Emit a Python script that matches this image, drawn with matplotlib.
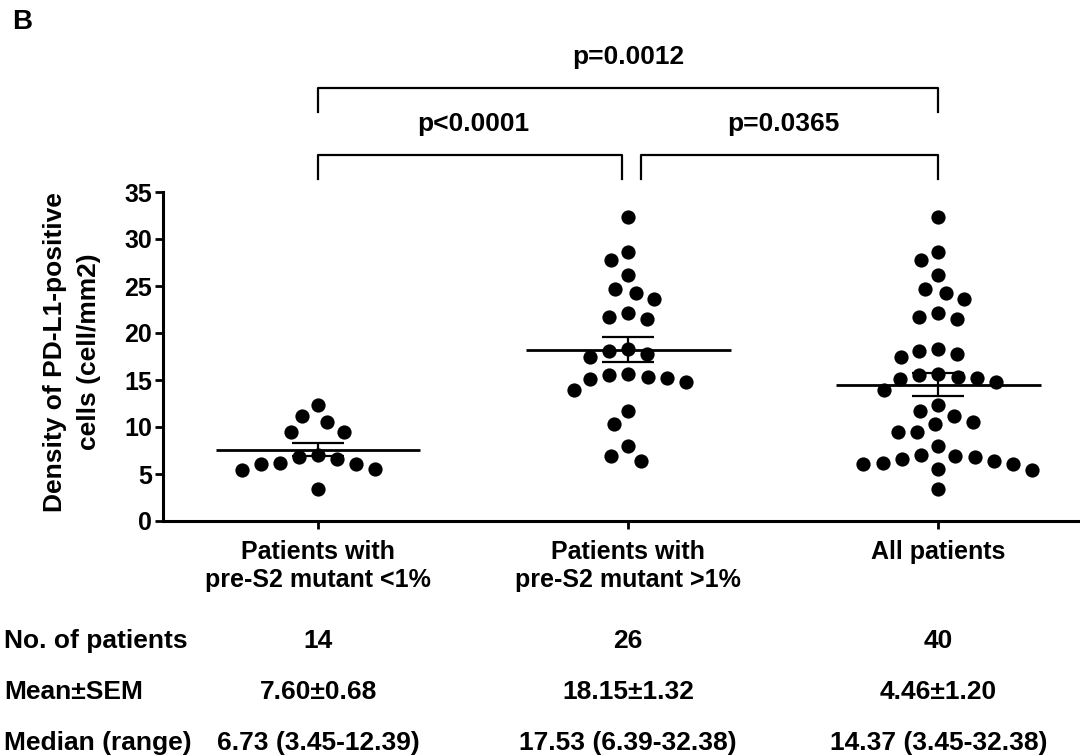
import numpy as np
import matplotlib
matplotlib.use("Agg")
import matplotlib.pyplot as plt
import matplotlib.transforms as mtransforms

# ---------------- data ----------------
categories = ["Patients with\npre-S2 mutant <1%", "Patients with\npre-S2 mutant >1%", "All patients"]
group_low = [12.39, 10.56, 11.17, 9.47, 9.50, 6.81, 6.17, 6.06, 5.53, 5.43, 6.10, 6.63, 7.05, 3.45]
group_high = [32.38, 28.65, 27.77, 26.17, 24.68, 24.26, 23.58, 22.16, 21.45, 21.67,
              18.27, 17.77, 17.41, 18.12, 15.60, 15.32, 15.14, 13.94, 14.82, 15.25,
              15.50, 11.74, 10.35, 7.98, 6.39, 6.95]
group_all = group_low + group_high
groups = [group_low, group_high, group_all]

yticks = [0, 5, 10, 15, 20, 25, 30, 35]
ylabel = "Density of PD-L1-positive\ncells (cell/mm2)"

row_labels = ["No. of patients", "Mean\u00b1SEM", "Median (range)"]
n_patients = ["14", "26", "40"]
mean_sem = ["7.60\u00b10.68", "18.15\u00b11.32", "4.46\u00b11.20"]
median_range = ["6.73 (3.45-12.39)", "17.53 (6.39-32.38)", "14.37 (3.45-32.38)"]

comparisons = [(0, 2, "p=0.0012"), (0, 1, "p<0.0001"), (1, 2, "p=0.0365")]

# ---------------- style ----------------
plt.rcParams['font.family'] = ['Liberation Sans', 'DejaVu Sans']
plt.rcParams['font.weight'] = 'bold'

W, H = 1080, 755
fig = plt.figure(figsize=(W / 100, H / 100), dpi=100)
ax = fig.add_axes([163 / W, 1 - 521 / H, (1078 - 163) / W, (521 - 192) / H])
ax.set_xlim(-0.5, 2.45)
ax.set_ylim(0, 35)

for s in ['top', 'right']:
    ax.spines[s].set_visible(False)
for s in ['left', 'bottom']:
    ax.spines[s].set_linewidth(2.2)

ax.set_yticks(yticks)
ax.set_yticklabels([str(t) for t in yticks], fontsize=18, fontweight='bold')
ax.set_xticks(range(len(categories)))
ax.set_xticklabels(categories, fontsize=18, fontweight='bold', linespacing=1.2)
ax.tick_params(axis='y', direction='out', length=6, width=2, pad=2)
ax.tick_params(axis='x', direction='out', length=6, width=2, pad=8)

# pixel scale
p0 = ax.transData.transform((0, 0))
p1 = ax.transData.transform((1, 1))
xpx, ypx = p1[0] - p0[0], p1[1] - p0[1]


def swarm_offsets(vals, min_px):
    vals = np.asarray(vals, dtype=float)
    order = np.argsort(-vals, kind='stable')
    placed = []
    offs = np.zeros(len(vals))
    for i in order:
        y = vals[i] * ypx
        cands = [0.0]
        for (py, px) in placed:
            dy = abs(y - py)
            if dy < min_px:
                dx = np.sqrt(min_px ** 2 - dy ** 2)
                cands += [px + dx, px - dx]
        cands = sorted(cands, key=lambda c: (abs(c), c))
        for c in cands:
            if all((c - px) ** 2 + (y - py) ** 2 >= min_px ** 2 - 1e-6 for py, px in placed):
                offs[i] = c
                placed.append((y, c))
                break
    return offs / xpx


for gi, vals in enumerate(groups):
    offs = swarm_offsets(vals, 19.5)
    ax.scatter(gi + offs, vals, s=105, color='black', zorder=3, linewidths=0)
    arr = np.asarray(vals)
    m = arr.mean()
    sem = arr.std(ddof=1) / np.sqrt(len(arr))
    ax.plot([gi - 0.33, gi + 0.33], [m, m], color='black', lw=2, zorder=4, solid_capstyle='butt')
    ax.errorbar([gi], [m], yerr=[sem], fmt='none', ecolor='black', elinewidth=1.6,
                capsize=19, capthick=1.6, zorder=4)

# significance brackets (above axes)
bracket_levels = {(0, 2): (46.1, 43.5, 49.4), (0, 1): (38.9, 36.4, 42.2), (1, 2): (38.9, 36.4, 42.2)}
for a, b, label in comparisons:
    top, low, ty = bracket_levels[(a, b)]
    xa = a + (0.04 if (a == 1) else 0)
    xb = b - (0.02 if (b == 1) else 0)
    ax.plot([xa, xa, xb, xb], [low, top, top, low], color='black', lw=1.6, clip_on=False)
    ax.text((a + b) / 2, ty, label, ha='center', va='center', fontsize=19,
            fontweight='bold', clip_on=False)

# y label
fig.text(72 / W, 1 - 352 / H, ylabel, rotation=90, ha='center', va='center',
         fontsize=19, fontweight='bold', linespacing=1.5, multialignment='center')

# panel letter
fig.text(12 / W, 1 - 22 / H, "B", ha='left', va='center', fontsize=20, fontweight='bold')

# table below
trans = mtransforms.blended_transform_factory(ax.transData, fig.transFigure)
row_y = [1 - 641 / H, 1 - 692 / H, 1 - 743 / H]
rows = [n_patients, mean_sem, median_range]
for ry, lab, vals in zip(row_y, row_labels, rows):
    fig.text(4 / W, ry, lab, ha='left', va='center', fontsize=19, fontweight='bold')
    for gi, v in enumerate(vals):
        ax.text(gi, ry, v, transform=trans, ha='center', va='center', fontsize=19,
                fontweight='bold', clip_on=False)

fig.savefig("out.png", dpi=100)
